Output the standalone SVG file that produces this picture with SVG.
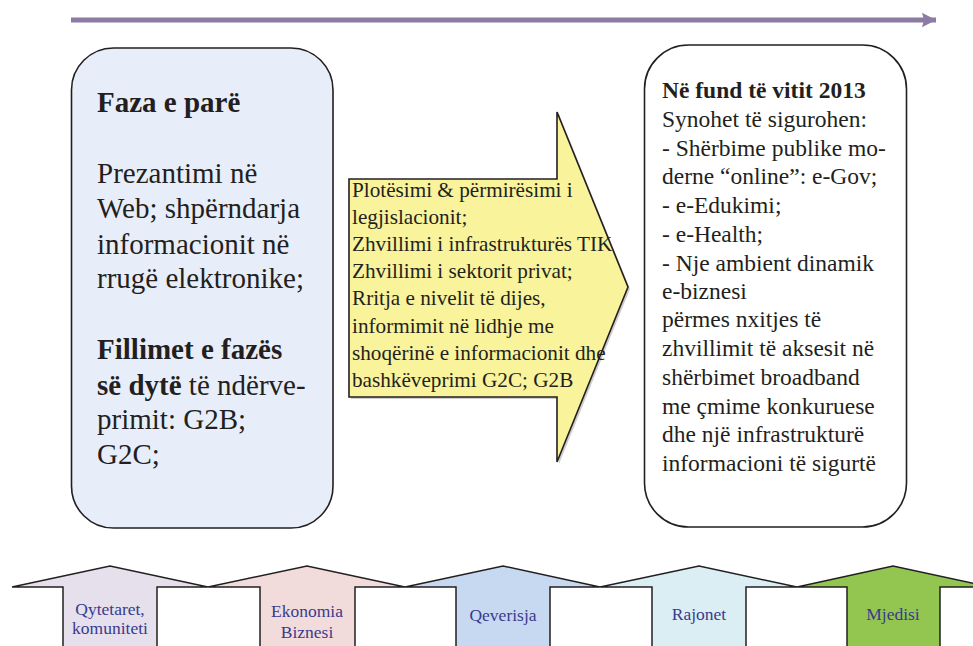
<svg xmlns="http://www.w3.org/2000/svg" width="973" height="646" viewBox="0 0 973 646">
<defs>
<style>
.t{font-family:"Liberation Serif","Times New Roman",serif;fill:#231f20}
.b{font-weight:bold}
.box{stroke:#231f20;stroke-width:1.6}
.lab{font-family:"Liberation Serif","Times New Roman",serif;fill:#3a3a8c;font-size:17.5px;text-anchor:middle}
.up{stroke:#231f20;stroke-width:1.5}
</style>
<marker id="ah" markerUnits="userSpaceOnUse" markerWidth="16" markerHeight="16" refX="14" refY="8" orient="auto">
<path d="M0,0.7 L14,8 L0,15.3 L2,8 Z" fill="#8c7ba2"/>
</marker>
</defs>
<rect width="973" height="646" fill="#ffffff"/>
<g id="connectors">
<line x1="71" y1="20" x2="936" y2="20" stroke="#8c7ba2" stroke-width="5" marker-end="url(#ah)"/>
</g>
<g id="phase1">
<rect class="box" x="71.5" y="48" width="261.5" height="480" rx="42" ry="42" fill="#e8eef9"/>
<text class="t" font-size="29" x="97">
<tspan class="b" x="97" y="112">Faza e parë</tspan>
<tspan x="97" y="183">Prezantimi në</tspan>
<tspan x="97" y="218">Web; shpërndarja</tspan>
<tspan x="97" y="254">informacionit në</tspan>
<tspan x="97" y="288">rrugë elektronike;</tspan>
<tspan class="b" x="97" y="359">Fillimet e fazës</tspan>
<tspan class="b" x="97" y="395">së dytë</tspan><tspan> të ndërve-</tspan>
<tspan x="97" y="429">primit: G2B;</tspan>
<tspan x="97" y="464">G2C;</tspan>
</text>
</g>
<g id="actions">
<polygon points="351,181 559,181 559,114 630,289 559,464 559,399 351,399" fill="#9a9a9a" opacity="0.5"/>
<polygon class="box" points="349,179 557,179 557,112 628,287 557,462 557,397 349,397" fill="#f9f39b" stroke-width="1.4"/>
<text class="t" font-size="21.2">
<tspan x="352" y="197">Plotësimi &amp; përmirësimi i</tspan>
<tspan x="352" y="224">legjislacionit;</tspan>
<tspan x="352" y="251">Zhvillimi i infrastrukturës TIK</tspan>
<tspan x="352" y="278">Zhvillimi i sektorit privat;</tspan>
<tspan x="352" y="305">Rritja e nivelit të dijes,</tspan>
<tspan x="352" y="333">informimit në lidhje me</tspan>
<tspan x="352" y="360">shoqërinë e informacionit dhe</tspan>
<tspan x="352" y="387">bashkëveprimi G2C; G2B</tspan>
</text>
</g>
<g id="goal2013">
<rect class="box" x="644.5" y="45" width="262" height="482" rx="44" ry="44" fill="#ffffff"/>
<text class="t" font-size="23.5">
<tspan class="b" x="662" y="98">Në fund të vitit 2013</tspan>
<tspan x="662" y="127">Synohet të sigurohen:</tspan>
<tspan x="662" y="155.5">- Shërbime publike mo-</tspan>
<tspan x="662" y="184">derne “online”: e-Gov;</tspan>
<tspan x="662" y="213">- e-Edukimi;</tspan>
<tspan x="662" y="241.5">- e-Health;</tspan>
<tspan x="662" y="270.5">- Nje ambient dinamik</tspan>
<tspan x="662" y="298.5">e-biznesi</tspan>
<tspan x="662" y="327">përmes nxitjes të</tspan>
<tspan x="662" y="356">zhvillimit të aksesit në</tspan>
<tspan x="662" y="385">shërbimet broadband</tspan>
<tspan x="662" y="414">me çmime konkuruese</tspan>
<tspan x="662" y="442">dhe një infrastrukturë</tspan>
<tspan x="662" y="471">informacioni të sigurtë</tspan>
</text>
</g>
<g id="pillar1">
<polygon class="up" points="63,660 63,587 12,587 110,566 208,587 157,587 157,660" fill="#e5e0ec"/>
<text class="lab"><tspan x="110" y="615">Qytetaret,</tspan><tspan x="110" y="634">komuniteti</tspan></text>
</g>
<g id="pillar2">
<polygon class="up" points="260,660 260,587 208,587 307,566 405,587 355,587 355,660" fill="#f2dcdb"/>
<text class="lab"><tspan x="307" y="617">Ekonomia</tspan><tspan x="307" y="638">Biznesi</tspan></text>
</g>
<g id="pillar3">
<polygon class="up" points="456,660 456,587 405,587 503,566 600,587 550,587 550,660" fill="#c6d9f1"/>
<text class="lab" x="503" y="621">Qeverisja</text>
</g>
<g id="pillar4">
<polygon class="up" points="652,660 652,587 600,587 699,566 797,587 746,587 746,660" fill="#dbeef4"/>
<text class="lab" x="699" y="620">Rajonet</text>
</g>
<g id="pillar5">
<polygon class="up" points="847,660 847,587 797,587 893,566 990,587 940,587 940,660" fill="#92c651"/>
<text class="lab" x="893" y="620">Mjedisi</text>
</g>
</svg>
